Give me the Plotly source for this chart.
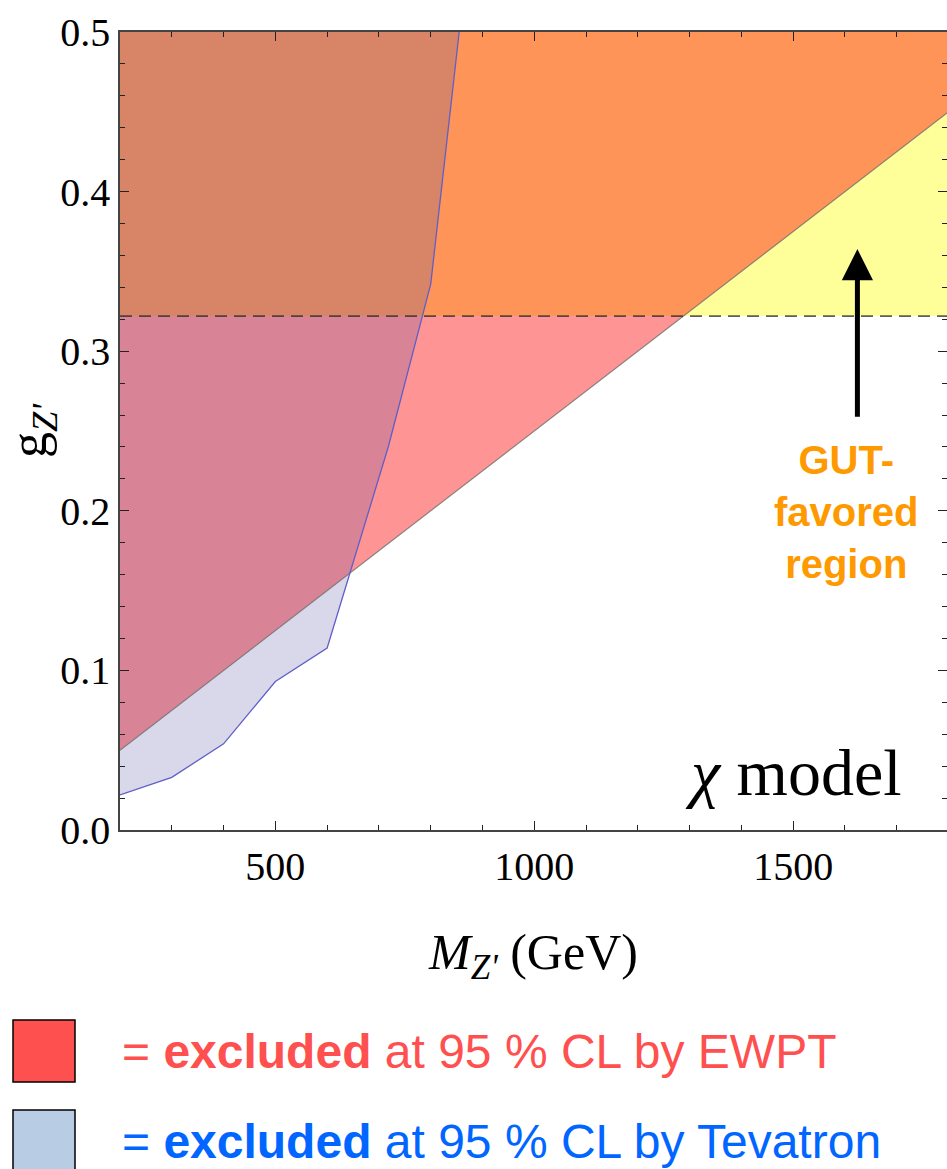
import plotly.graph_objects as go

# --- data -------------------------------------------------------------
# Tevatron 95% CL exclusion contour (excluded to the left / above)
tevatron_mass = [200, 300, 400, 500, 600, 718, 800, 855]
tevatron_g = [0.022, 0.033, 0.054, 0.093, 0.114, 0.240, 0.342, 0.500]

# EWPT 95% CL bound (excluded above the line)
ewpt_mass = [200, 1800]
ewpt_g = [0.050, 0.450]

# GUT-favoured coupling
g_gut = 0.322

m_min, m_max = 200, 1797
g_min, g_max = 0.0, 0.5

# --- figure geometry --------------------------------------------------
W, H = 947, 1169
ML, MR, MT, MB = 120, 0, 32, 339
PW, PH = W - ML - MR, H - MT - MB


def px_x(p):
    return (p - ML) / PW


def px_y(p):
    return (H - MB - p) / PH


serif = "Liberation Serif, Times New Roman, serif"
sans = "Liberation Sans, Arial, sans-serif"

fig = go.Figure()

# GUT-favoured band (above g_gut)
fig.add_trace(go.Scatter(
    x=[m_min, 1800, 1800, m_min], y=[g_gut, g_gut, g_max, g_max],
    fill="toself", fillcolor="rgba(255,255,0,0.40)", mode="none",
    hoverinfo="skip", showlegend=False))

# EWPT excluded region
fig.add_trace(go.Scatter(
    x=ewpt_mass + [ewpt_mass[-1], ewpt_mass[0]],
    y=ewpt_g + [g_max, g_max],
    fill="toself", fillcolor="rgba(255,0,0,0.42)", mode="none",
    hoverinfo="skip", showlegend=False))

# Tevatron excluded region
fig.add_trace(go.Scatter(
    x=tevatron_mass + [tevatron_mass[0]],
    y=tevatron_g + [g_max],
    fill="toself", fillcolor="rgba(73,73,157,0.215)", mode="none",
    hoverinfo="skip", showlegend=False))

# boundaries
fig.add_trace(go.Scatter(
    x=ewpt_mass, y=ewpt_g, mode="lines",
    line=dict(color="rgba(110,110,110,0.8)", width=1.2),
    hoverinfo="skip", showlegend=False))
fig.add_trace(go.Scatter(
    x=tevatron_mass, y=tevatron_g, mode="lines",
    line=dict(color="rgb(95,95,200)", width=1.3),
    hoverinfo="skip", showlegend=False))
fig.add_trace(go.Scatter(
    x=[m_min, 1800], y=[g_gut, g_gut], mode="lines",
    line=dict(color="rgba(40,40,40,0.75)", width=1.7, dash="12px,7px"),
    hoverinfo="skip", showlegend=False))

# empty trace that anchors the right-hand tick axis
fig.add_trace(go.Scatter(x=[], y=[], yaxis="y2", showlegend=False,
                         hoverinfo="skip"))

axis_color = "#444"
fig.update_layout(
    width=W, height=H,
    margin=dict(l=ML, r=MR, t=MT, b=MB),
    plot_bgcolor="white", paper_bgcolor="white",
    showlegend=False,
    xaxis=dict(
        range=[m_min, m_max], tick0=0, dtick=500,
        ticks="inside", ticklen=9, tickwidth=1.2, tickcolor="#222",
        minor=dict(dtick=100, ticks="inside", ticklen=5, tickwidth=1,
                   tickcolor="#222"),
        showline=True, linecolor=axis_color, linewidth=1.6, mirror="ticks",
        showgrid=False, zeroline=False,
        tickfont=dict(family=serif, size=40, color="black"),
        title=dict(text="<i>M</i><sub><i>Z'</i></sub> (GeV)",
                   font=dict(family=serif, size=50, color="black"),
                   standoff=46),
    ),
    yaxis=dict(
        range=[g_min, g_max], tick0=0, dtick=0.1, tickformat=".1f",
        ticks="inside", ticklen=9, tickwidth=1.2, tickcolor="#222",
        minor=dict(dtick=0.02, ticks="inside", ticklen=5, tickwidth=1,
                   tickcolor="#222"),
        showline=True, linecolor=axis_color, linewidth=1.6, mirror=False,
        showgrid=False, zeroline=False,
        tickfont=dict(family=serif, size=40, color="black"),
        title=dict(text="g<sub><i>Z'</i></sub>",
                   font=dict(family=serif, size=52, color="black"),
                   standoff=14),
    ),
    yaxis2=dict(
        range=[g_min, g_max], overlaying="y", side="right",
        tick0=0, dtick=0.1, ticks="inside", ticklen=9, tickwidth=1.2,
        tickcolor="#222",
        minor=dict(dtick=0.02, ticks="inside", ticklen=5, tickwidth=1,
                   tickcolor="#222"),
        showticklabels=False, showline=False, showgrid=False,
        zeroline=False,
    ),
)

# chi model label
fig.add_annotation(
    x=1500, y=0.036, xref="x", yref="y", showarrow=False,
    xanchor="center", yanchor="middle",
    text="<i>χ</i> model",
    font=dict(family=serif, size=66, color="black"))

# GUT-favoured arrow and label
fig.add_annotation(
    x=1624, y=0.364, xref="x", yref="y",
    ax=1624, ay=0.258, axref="x", ayref="y",
    text="", showarrow=True, arrowhead=2, arrowsize=1.25,
    arrowwidth=5, arrowcolor="black")
fig.add_annotation(
    x=px_x(846), y=px_y(512), xref="paper", yref="paper",
    xanchor="center", yanchor="middle",
    showarrow=False, align="center",
    text="<b>GUT-<br>favored<br>region</b>",
    font=dict(family=sans, size=40, color="#FF9900"))

# key boxes with their descriptions
key = [
    (1020, "#FF5050", "#FF5050", "= <b>excluded</b> at 95 % CL by EWPT"),
    (1110, "#B8CCE4", "#0066FF", "= <b>excluded</b> at 95 % CL by Tevatron"),
]
for top, box_color, text_color, label in key:
    fig.add_shape(
        type="rect", xref="paper", yref="paper",
        x0=px_x(13), x1=px_x(75), y0=px_y(top), y1=px_y(top + 62),
        fillcolor=box_color, line=dict(color="black", width=1.5))
    fig.add_annotation(
        x=px_x(120), y=px_y(top + 31), xref="paper", yref="paper",
        xanchor="left", yanchor="middle", showarrow=False,
        text=label, font=dict(family=sans, size=48, color=text_color))

fig.write_html("out.html")
